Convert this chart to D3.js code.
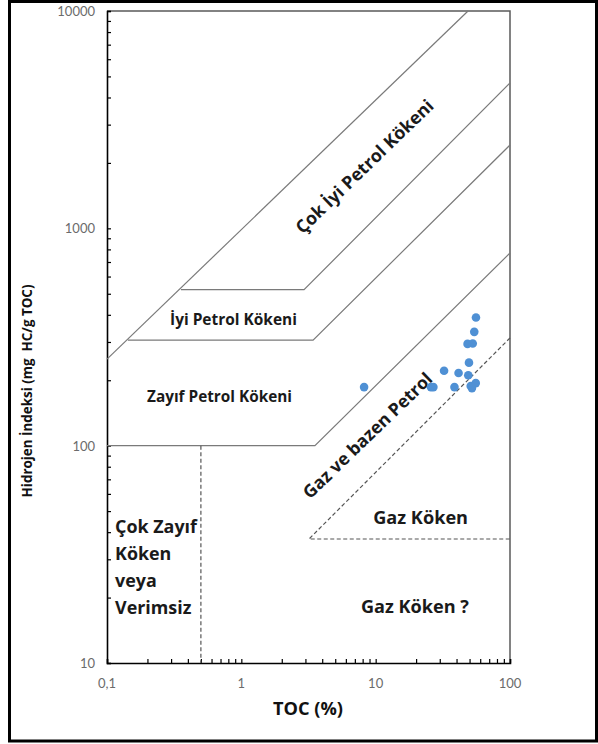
<!DOCTYPE html>
<html>
<head>
<meta charset="utf-8">
<script src="https://cdn.jsdelivr.net/npm/d3@7"></script>
<style>
  body { margin: 0; background: #fff; }
  svg { display: block; }
  text { font-family: "Open Sans", "Noto Sans", sans-serif; }
  text.tick-label { font-family: Lato, "Open Sans", sans-serif; }
</style>
</head>
<body>
<svg id="chart" width="598" height="744"></svg>
<script>
// Samples: total organic carbon (%) and hydrogen index (mg HC/g TOC)
const tocValues = [55.8, 54.2, 48.3, 52.8, 49.5, 32.3, 41.4, 48.9, 8.2, 25.8, 26.9, 38.6, 51.0, 55.6, 52.1];
const hiValues  = [389, 334, 294, 295, 241, 221, 216, 211, 186, 186, 186, 186, 188, 194, 184];

// Axis ticks
const xTickValues = [0.1, 1, 10, 100];
const xTickLabels = ["0,1", "1", "10", "100"];
const yTickValues = [10, 100, 1000, 10000];
const yTickLabels = ["10", "100", "1000", "10000"];

// Source-rock class boundaries as [TOC, HI] polylines
const boundaryOuter = [[0.1, 250], [48.7, 10000]];
const boundaryGood  = [[0.355, 522], [2.93, 522], [100, 4664]];
const boundaryFair  = [[0.143, 306], [3.42, 306], [100, 2417]];
const boundaryPoor  = [[0.1, 100], [3.53, 100], [100, 770]];
const boundaryGas   = [[100, 313], [3.19, 37.2], [100, 37.2]];
const boundaryLean  = [[0.5, 100], [0.5, 10]];

const svg = d3.select("#chart");

// outer frame
svg.append("rect")
  .attr("x", 9.5).attr("y", 1.5).attr("width", 587).attr("height", 739.5)
  .attr("fill", "none").attr("stroke", "#000").attr("stroke-width", 3);

const plot = { left: 107, right: 510, top: 11, bottom: 663 };
const x = d3.scaleLog().domain([0.1, 100]).range([plot.left, plot.right]);
const y = d3.scaleLog().domain([10, 10000]).range([plot.bottom, plot.top]);

// scale a text element so that its drawn length equals the given width
function fit(sel, width) {
  const node = sel.node();
  const size = parseFloat(sel.attr("font-size"));
  const len = node.getComputedTextLength();
  sel.attr("font-size", (size * width / len).toFixed(2));
  return sel;
}

// plot frame (top and right edges)
svg.append("path")
  .attr("d", `M${plot.left},${plot.top}H${plot.right}V${plot.bottom}`)
  .attr("fill", "none").attr("stroke", "#595959").attr("stroke-width", 1.5);

// tick marks at every 1..9 step of each decade, drawn inward
const xMinor = [], yMinor = [];
for (let e = -1; e < 2; e++) for (let m = 1; m < 10; m++) xMinor.push(m * Math.pow(10, e));
xMinor.push(100);
for (let e = 1; e < 4; e++) for (let m = 1; m < 10; m++) yMinor.push(m * Math.pow(10, e));
yMinor.push(10000);

const xAxis = d3.axisBottom(x).tickValues(xMinor).tickSize(-4).tickFormat("");
const yAxis = d3.axisLeft(y).tickValues(yMinor).tickSize(-4).tickFormat("");

svg.append("g").attr("transform", `translate(0,${plot.bottom})`).call(xAxis)
  .call(g => g.selectAll("line").attr("stroke", "#000").attr("stroke-width", 1.2))
  .call(g => g.select(".domain").attr("stroke", "#000").attr("stroke-width", 1.6));
svg.append("g").attr("transform", `translate(${plot.left},0)`).call(yAxis)
  .call(g => g.selectAll("line").attr("stroke", "#000").attr("stroke-width", 1.2))
  .call(g => g.select(".domain").attr("stroke", "#000").attr("stroke-width", 1.6));

// tick labels
const tickColor = "#6b6b6b";
svg.append("g").selectAll("text").data(xTickValues).join("text")
  .attr("class", "tick-label")
  .attr("x", d => x(d)).attr("y", 683)
  .attr("text-anchor", "middle").attr("dominant-baseline", "central")
  .attr("font-size", 13).attr("fill", tickColor)
  .text((d, i) => xTickLabels[i]);
svg.append("g").selectAll("text").data(yTickValues).join("text")
  .attr("class", "tick-label")
  .attr("x", 95).attr("y", d => y(d))
  .attr("text-anchor", "end").attr("dominant-baseline", "central")
  .attr("font-size", 13).attr("fill", tickColor)
  .text((d, i) => yTickLabels[i]);

// class boundaries
const line = d3.line().x(d => x(d[0])).y(d => y(d[1]));
[boundaryOuter, boundaryGood, boundaryFair, boundaryPoor].forEach(b => {
  svg.append("path").attr("d", line(b))
    .attr("fill", "none").attr("stroke", "#7a7a7a").attr("stroke-width", 1.2);
});
[boundaryGas, boundaryLean].forEach(b => {
  svg.append("path").attr("d", line(b))
    .attr("fill", "none").attr("stroke", "#555").attr("stroke-width", 1.2)
    .attr("stroke-dasharray", "4,2.5");
});

// class labels
function label(txt, tx, ty, width, angle) {
  const t = svg.append("text")
    .attr("text-anchor", "middle").attr("dominant-baseline", "central")
    .attr("font-size", 14).attr("font-weight", 700).attr("fill", "#1a1a1a")
    .attr("transform", `translate(${x(tx)},${y(ty)}) rotate(${angle || 0})`)
    .text(txt);
  return fit(t, width);
}
label("Çok İyi Petrol Kökeni", 8.19, 1936, 184, -44);
label("İyi Petrol Kökeni", 0.874, 383, 127, 0);
label("Zayıf Petrol Kökeni", 0.688, 169, 145, 0);
label("Gaz ve bazen Petrol", 8.62, 112, 172, -44);
label("Gaz Köken", 21.6, 47, 95);
label("Gaz Köken ?", 19.6, 18.3, 108);

// low-TOC block label, left aligned
const leanLines = ["Çok Zayıf", "Köken", "veya", "Verimsiz"];
const leanG = svg.append("g");
const first = leanG.append("text")
  .attr("x", 115).attr("y", 526).attr("dominant-baseline", "central")
  .attr("font-size", 16).attr("font-weight", 700).attr("fill", "#1a1a1a")
  .text(leanLines[0]);
fit(first, 82);
const leanSize = first.attr("font-size");
leanG.selectAll("text.rest").data(leanLines.slice(1)).join("text")
  .attr("class", "rest")
  .attr("x", 115).attr("y", (d, i) => 526 + 27 * (i + 1)).attr("dominant-baseline", "central")
  .attr("font-size", leanSize).attr("font-weight", 700).attr("fill", "#1a1a1a")
  .text(d => d);

// axis titles
fit(svg.append("text")
  .attr("x", 308).attr("y", 708).attr("text-anchor", "middle").attr("dominant-baseline", "central")
  .attr("font-size", 15).attr("font-weight", 700).attr("fill", "#111")
  .text("TOC (%)"), 70);
fit(svg.append("text")
  .attr("transform", "translate(27,391) rotate(-90)")
  .attr("text-anchor", "middle").attr("dominant-baseline", "central")
  .attr("font-size", 11).attr("font-weight", 700).attr("fill", "#111")
  .attr("xml:space", "preserve")
  .text("Hidrojen İndeksi (mg  HC/g TOC)"), 213);

// sample points
svg.append("g").selectAll("circle").data(tocValues).join("circle")
  .attr("cx", d => x(d)).attr("cy", (d, i) => y(hiValues[i]))
  .attr("r", 4.3).attr("fill", "#4f90d4");
</script>
</body>
</html>
